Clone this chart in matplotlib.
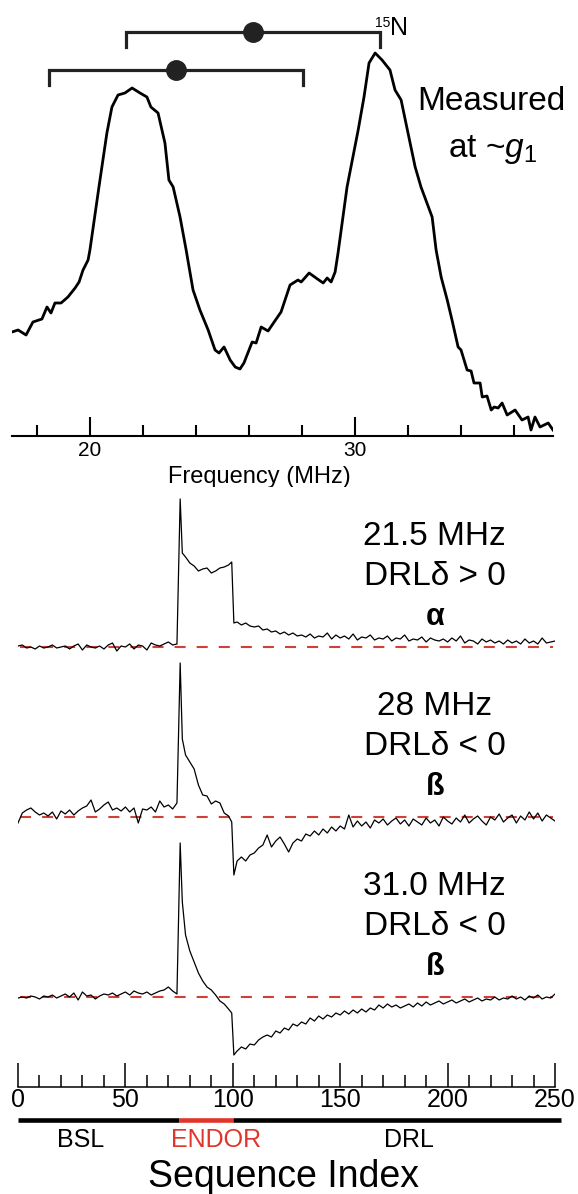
import numpy as np
import matplotlib
matplotlib.use('Agg')
import matplotlib.pyplot as plt

plt.rcParams['font.family'] = ['Liberation Sans', 'DejaVu Sans']
plt.rcParams['mathtext.fontset'] = 'custom'
plt.rcParams['mathtext.rm'] = 'Liberation Sans'
plt.rcParams['mathtext.it'] = 'Liberation Sans:italic'

# ENDOR spectrum measured at ~g1 (arbitrary units)
freq = [17.06, 17.29, 17.59, 17.85, 18.19, 18.38, 18.53, 18.68, 18.91, 19.17,
        19.44, 19.59, 19.74, 19.93, 20.00, 20.34, 20.64, 20.83, 21.06, 21.32,
        21.59, 21.89, 22.15, 22.30, 22.57, 22.83, 22.98, 23.14, 23.40, 23.63,
        23.74, 23.89, 24.15, 24.46, 24.72, 24.87, 25.06, 25.29, 25.48, 25.66,
        25.81, 26.12, 26.27, 26.46, 26.72, 26.95, 27.21, 27.55, 27.85, 27.97,
        28.27, 28.53, 28.80, 28.95, 29.10, 29.25, 29.36, 29.70, 30.12, 30.34,
        30.53, 30.76, 31.02, 31.32, 31.51, 31.74, 32.00, 32.27, 32.49, 32.91,
        33.06, 33.25, 33.48, 33.66, 33.89, 34.00, 34.23, 34.38, 34.49, 34.72,
        34.80, 34.98, 35.14, 35.25, 35.40, 35.55, 35.74, 36.04, 36.30, 36.53,
        36.64, 36.79, 36.98, 37.29, 37.47]
endor = [104, 106, 101, 114, 117, 129, 123, 133, 133, 139,
         148, 154, 166, 176, 186, 249, 303, 329, 341, 343,
         348, 343, 339, 329, 323, 293, 256, 249, 219, 186,
         169, 146, 126, 106, 86, 83, 89, 76, 69, 67,
         73, 94, 93, 109, 105, 114, 124, 151, 156, 154,
         163, 158, 153, 158, 154, 164, 183, 249, 306, 339,
         373, 383, 376, 366, 346, 336, 303, 269, 249, 219,
         186, 159, 136, 116, 89, 86, 66, 65, 53, 53,
         39, 40, 26, 29, 28, 33, 21, 26, 16, 19,
         6, 19, 9, 13, 6]

# hyperfine brackets (low edge, high edge, level)
bracket_lo = [18.46, 21.36]
bracket_hi = [28.04, 30.95]
bracket_level = [366, 404]

# pulsed ENDOR sequence traces
seq_index = (list(range(0, 75, 2)) + [75.5, 76.5] + list(range(78, 99, 2))
             + [99.5, 100.5] + list(range(102, 251, 2)))

trace1 = ([1, 2, -1, 0, -2, 1, -1, 0, 2, -1, 0, 1, -2, 1, 3, -3, 2, 0, -1, 1,
           -2, 2, 4, -4, 1, 0, 3, -2, 2, 1, -3, 4, 2, 1, 3, 5, 2, 3]
          + [148, 94]
          + [90, 84, 81, 76, 78, 79, 74, 76, 79, 80, 82]
          + [85, 24]
          + [25, 22, 24, 21, 20, 21, 17, 18, 15, 16,
             13, 15, 12, 14, 11, 12, 10, 13, 9, 11,
             10, 14, 8, 12, 9, 11, 8, 13, 7, 10,
             9, 12, 7, 9, 8, 11, 6, 9, 8, 12,
             6, 8, 7, 10, 5, 9, 7, 6, 8, 5,
             9, 6, 11, 4, 7, 6, 3, 8, 5, 7,
             4, 6, 3, 7, 4, 6, 3, 8, 4, 6,
             3, 9, 4, 5, 6])
trace2 = ([-6, 4, 7, 9, 5, 2, 4, 1, 5, -2, 6, 3, 7, 2, 6, 9, 11, 17, 5, 8,
           12, 15, 7, 9, 6, 10, 5, 9, -6, 8, 7, 10, 5, 16, 10, 12, 8, 14]
          + [154, 78]
          + [62, 55, 48, 32, 22, 21, 13, 16, 14, 4, 1]
          + [-5, -58]
          + [-44, -40, -44, -38, -36, -31, -28, -18, -30, -24,
             -20, -27, -35, -26, -22, -24, -17, -19, -14, -18,
             -12, -16, -10, -14, -9, -12, 2, -10, -4, -9,
             -5, -11, -3, -6, -2, -8, -4, -1, -7, -3,
             -9, -2, -5, -8, -1, -6, -3, -9, 0, -4,
             -7, -1, -5, 2, -6, -2, 1, -4, -8, 0,
             -3, 3, -5, -1, 2, -6, 1, -3, 5, -2,
             4, -4, 2, -1, -4])
trace3 = ([-1, 0, -1, 1, 0, -2, 1, 0, 2, -1, 1, 3, 0, 4, -3, 5, 1, 2, -2, 1,
           3, 2, 4, 1, 3, 5, 2, 6, 4, 3, 5, 2, 4, 6, 7, 10, 6, 3]
          + [154, 95]
          + [62, 46, 35, 24, 16, 10, 7, 2, -4, -7, -12]
          + [-16, -58]
          + [-54, -50, -52, -47, -48, -43, -40, -38, -40, -34,
             -36, -31, -33, -27, -29, -25, -27, -21, -24, -19,
             -22, -18, -20, -16, -18, -14, -17, -13, -16, -12,
             -15, -11, -13, -8, -11, -7, -10, -8, -11, -9,
             -7, -10, -6, -9, -5, -8, -6, -4, -7, -5,
             -3, -6, -4, -2, -5, -3, -1, -4, -2, -3,
             0, -3, -1, -2, 1, -2, 0, -3, 1, -1,
             2, -2, 0, -1, 3])
traces = [trace1, trace2, trace3]
trace_freq = ['21.5 MHz', '28 MHz', '31.0 MHz']
trace_sign = ['DRLδ > 0', 'DRLδ < 0', 'DRLδ < 0']
trace_spin = ['α', 'ß', 'ß']
offsets = [440, 270, 90]

phase_names = ['BSL', 'ENDOR', 'DRL']
phase_edges = [0, 75, 100, 253]
phase_label_x = [29, 92, 182]

RED = '#e0352b'
DASH = '#cf4039'

fig = plt.figure(figsize=(5.78, 11.94), dpi=100)

# ---- top: ENDOR spectrum ----
ax1 = fig.add_axes([12 / 578, 1 - 436 / 1194, 541 / 578, 420 / 1194])
ax1.plot(freq, endor, color='black', lw=2.0, solid_joinstyle='round')
for lo, hi, lev in zip(bracket_lo, bracket_hi, bracket_level):
    ax1.plot([lo, lo, hi, hi], [lev - 15, lev, lev, lev - 15], color='#222222',
             lw=2.3, solid_joinstyle='miter', clip_on=False)
    ax1.plot((lo + hi) / 2, lev, 'o', ms=14, color='#222222', clip_on=False)

ax1.text(31.32, 409, '15', fontsize=10, ha='right', va='baseline')
ax1.text(31.32, 401, 'N', fontsize=18, ha='left', va='baseline')
ax1.text(35.15, 326, 'Measured', fontsize=24, ha='center', va='baseline')
ax1.text(35.17, 279, r'at ~$g_1$', fontsize=24, ha='center', va='baseline')
ax1.text(26.38, -47, 'Frequency (MHz)', fontsize=17, ha='center', va='baseline',
         clip_on=False)

ax1.set_xlim(17.06, 37.47)
ax1.set_ylim(0, 420)
for s in ['left', 'right', 'top']:
    ax1.spines[s].set_visible(False)
ax1.spines['bottom'].set_linewidth(1.5)
ax1.set_yticks([])
ax1.set_xticks([20, 30])
ax1.set_xticks([18, 22, 24, 26, 28, 32, 34, 36], minor=True)
ax1.tick_params(axis='x', which='major', direction='in', length=13.7, width=1.5,
                labelsize=15, pad=3.6)
ax1.tick_params(axis='x', which='minor', direction='in', length=8, width=1.5)

# ---- bottom: sequence traces ----
ax2 = fig.add_axes([18 / 578, 1 - 1087 / 1194, 537 / 578, 600 / 1194])
for tr, off, f, sg, sp in zip(traces, offsets, trace_freq, trace_sign, trace_spin):
    ax2.hlines(off, 1, 249, colors=DASH, lw=1.5, linestyles=(0, (5.3, 5.3)))
    ax2.plot(seq_index, np.array(tr) + off, color='black', lw=0.9)
    ax2.text(194, off + 102, f, fontsize=24, ha='center', va='baseline')
    ax2.text(194, off + 62, sg, fontsize=24, ha='center', va='baseline')
    ax2.text(194, off + 22, sp, fontsize=22, ha='center', va='baseline',
             fontweight='bold')

for i, name in enumerate(phase_names):
    col = RED if name == 'ENDOR' else 'black'
    ax2.plot([phase_edges[i], phase_edges[i + 1]], [-33, -33], color=col, lw=3.3,
             solid_capstyle='butt', clip_on=False)
    ax2.text(phase_label_x[i], -60, name, fontsize=18, color=col,
             ha='center', va='baseline', clip_on=False)
ax2.text(123.4, -100, 'Sequence Index', fontsize=27, ha='center', va='baseline',
         clip_on=False)

ax2.set_xlim(0, 250)
ax2.set_ylim(0, 600)
for s in ['left', 'right', 'top']:
    ax2.spines[s].set_visible(False)
ax2.spines['bottom'].set_linewidth(1.1)
ax2.set_yticks([])
ax2.set_xticks(np.arange(0, 251, 50))
ax2.set_xticks(np.arange(0, 251, 10), minor=True)
ax2.tick_params(axis='x', which='major', direction='in', length=17, width=1.1,
                labelsize=18, pad=1)
ax2.tick_params(axis='x', which='minor', direction='in', length=8.6, width=1.1)

fig.savefig('out.png', dpi=100)
